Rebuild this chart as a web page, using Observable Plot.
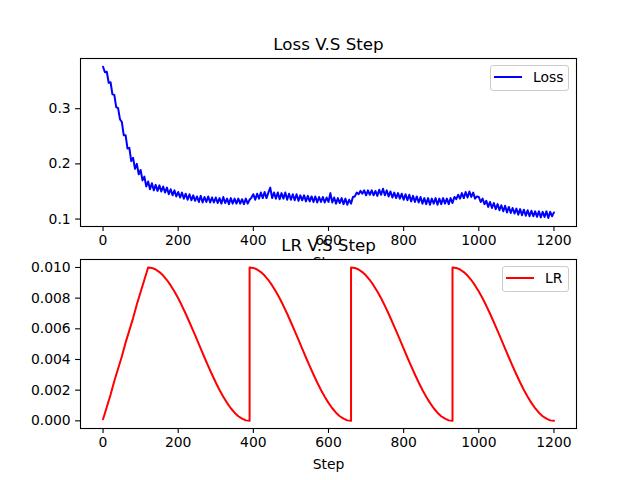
<!DOCTYPE html>
<html>
<head>
<meta charset="utf-8">
<script src="https://cdn.jsdelivr.net/npm/d3@7"></script>
<script src="https://cdn.jsdelivr.net/npm/@observablehq/plot@0.6"></script>
<style>
  html, body { margin: 0; padding: 0; background: white; }
  #fig { position: relative; width: 640px; height: 480px; background: white; overflow: hidden; font-family: "DejaVu Sans"; }
  #fig svg { position: absolute; left: 0; }
</style>
</head>
<body>
<div id="fig"></div>
<script>
// ---- data ----
const titles = ["Loss V.S Step", "LR V.S Step"];
const seriesNames = ["Loss", "LR"];
const xLabel = "Step";
const xTicks = [0, 200, 400, 600, 800, 1000, 1200];
const lossTicks = [0.1, 0.2, 0.3];
const lrTicks = [0, 0.002, 0.004, 0.006, 0.008, 0.010];

const lossStep = d3.range(0, 1201, 5);
const lossValue = [
  0.376, 0.366, 0.367, 0.347, 0.348, 0.326, 0.325, 0.303, 0.301, 0.281,
  0.276, 0.252, 0.252, 0.228, 0.229, 0.205, 0.211, 0.191, 0.200, 0.181,
  0.189, 0.170, 0.177, 0.159, 0.168, 0.154, 0.165, 0.152, 0.162, 0.151,
  0.161, 0.150, 0.159, 0.148, 0.157, 0.145, 0.154, 0.143, 0.152, 0.141,
  0.149, 0.139, 0.148, 0.137, 0.146, 0.135, 0.145, 0.134, 0.143, 0.133,
  0.141, 0.131, 0.142, 0.130, 0.140, 0.131, 0.141, 0.130, 0.139, 0.130,
  0.139, 0.129, 0.138, 0.128, 0.140, 0.129, 0.137, 0.127, 0.138, 0.128,
  0.137, 0.128, 0.137, 0.128, 0.136, 0.127, 0.137, 0.128, 0.135, 0.139,
  0.145, 0.135, 0.146, 0.137, 0.148, 0.138, 0.149, 0.138, 0.148, 0.157,
  0.138, 0.148, 0.137, 0.148, 0.136, 0.147, 0.137, 0.148, 0.135, 0.146,
  0.135, 0.145, 0.134, 0.145, 0.133, 0.143, 0.134, 0.143, 0.132, 0.142,
  0.132, 0.141, 0.131, 0.141, 0.130, 0.140, 0.131, 0.140, 0.130, 0.139,
  0.131, 0.147, 0.130, 0.139, 0.128, 0.138, 0.129, 0.138, 0.127, 0.137,
  0.126, 0.135, 0.128, 0.140, 0.141, 0.148, 0.145, 0.151, 0.146, 0.152,
  0.143, 0.152, 0.144, 0.152, 0.143, 0.151, 0.142, 0.153, 0.144, 0.155,
  0.143, 0.152, 0.141, 0.150, 0.139, 0.148, 0.138, 0.147, 0.137, 0.146,
  0.135, 0.145, 0.134, 0.144, 0.132, 0.142, 0.131, 0.141, 0.130, 0.140,
  0.128, 0.138, 0.127, 0.138, 0.126, 0.137, 0.128, 0.138, 0.126, 0.137,
  0.127, 0.138, 0.128, 0.137, 0.127, 0.138, 0.129, 0.140, 0.136, 0.144,
  0.137, 0.147, 0.138, 0.149, 0.139, 0.150, 0.140, 0.148, 0.137, 0.141,
  0.140, 0.131, 0.137, 0.127, 0.133, 0.122, 0.131, 0.120, 0.129, 0.118,
  0.127, 0.116, 0.125, 0.114, 0.124, 0.112, 0.122, 0.111, 0.120, 0.110,
  0.119, 0.108, 0.118, 0.107, 0.117, 0.106, 0.116, 0.105, 0.115, 0.105,
  0.114, 0.104, 0.114, 0.103, 0.113, 0.104, 0.114, 0.102, 0.113, 0.105,
  0.112
];

const lrStep = [
  ...d3.range(0, 121, 10),
  ...d3.range(130, 391, 10),
  ...d3.range(390, 661, 10),
  ...d3.range(660, 931, 10),
  ...d3.range(930, 1201, 10)
];
const lrValue = [
  // warmup 0..120
  0.0001, 0.0009, 0.0017, 0.0026, 0.0034, 0.0042, 0.0051, 0.0059, 0.0067, 0.0076, 0.0084, 0.0092, 0.0100,
  // decay 130..390
  0.00997, 0.00987, 0.00970, 0.00947, 0.00918, 0.00883, 0.00843, 0.00799, 0.00750, 0.00698, 0.00643, 0.00587, 0.00529,
  0.00471, 0.00413, 0.00357, 0.00302, 0.00250, 0.00201, 0.00157, 0.00117, 0.00082, 0.00053, 0.00030, 0.00014, 0.00003, 0.00000,
  // restart 390..660
  0.01000, 0.00997, 0.00987, 0.00970, 0.00947, 0.00918, 0.00883, 0.00843, 0.00799, 0.00750, 0.00698, 0.00643, 0.00587, 0.00529,
  0.00471, 0.00413, 0.00357, 0.00302, 0.00250, 0.00201, 0.00157, 0.00117, 0.00082, 0.00053, 0.00030, 0.00014, 0.00003, 0.00000,
  // restart 660..930
  0.01000, 0.00997, 0.00987, 0.00970, 0.00947, 0.00918, 0.00883, 0.00843, 0.00799, 0.00750, 0.00698, 0.00643, 0.00587, 0.00529,
  0.00471, 0.00413, 0.00357, 0.00302, 0.00250, 0.00201, 0.00157, 0.00117, 0.00082, 0.00053, 0.00030, 0.00014, 0.00003, 0.00000,
  // restart 930..1200
  0.01000, 0.00997, 0.00987, 0.00970, 0.00947, 0.00918, 0.00883, 0.00843, 0.00799, 0.00750, 0.00698, 0.00643, 0.00587, 0.00529,
  0.00471, 0.00413, 0.00357, 0.00302, 0.00250, 0.00201, 0.00157, 0.00117, 0.00082, 0.00053, 0.00030, 0.00014, 0.00003, 0.00000
];

const lossData = lossStep.map((s, i) => ({step: s, value: lossValue[i]}));
const lrData = lrStep.map((s, i) => ({step: s, value: lrValue[i]}));

const FS = 13.9;
const common = {
  width: 640,
  marginLeft: 80,
  marginRight: 64,
  style: {fontFamily: "DejaVu Sans", fontSize: FS + "px", color: "black", background: "none", overflow: "visible"},
  x: {domain: [-60, 1260]}
};

function axes(yTicks, yFmt) {
  return [
    Plot.axisX({ticks: xTicks, tickSize: 4.9, tickPadding: 4, strokeWidth: 1.1, tickFormat: d => String(d),
      label: xLabel, labelAnchor: "center", labelArrow: "none", labelOffset: 40}),
    Plot.axisY({ticks: yTicks, tickSize: 4.9, tickPadding: 4.9, strokeWidth: 1.1, tickFormat: yFmt, label: null})
  ];
}

const topPlot = Plot.plot({
  ...common,
  height: 280,
  marginTop: 58,
  marginBottom: 54,
  y: {domain: [0.0865, 0.391]},
  marks: [
    Plot.line(lossData, {x: "step", y: "value", stroke: "#0000ff", strokeWidth: 2}),
    Plot.frame({stroke: "black", strokeWidth: 1.1}),
    ...axes(lossTicks, d3.format(".1f")),
    Plot.text([titles[0]], {text: d => d, frameAnchor: "top", dy: -8.3, lineAnchor: "bottom", fontSize: 16.7})
  ]
});

const botPlot = Plot.plot({
  ...common,
  height: 250,
  marginTop: 29,
  marginBottom: 52,
  y: {domain: [-0.0005, 0.01052]},
  marks: [
    Plot.frame({fill: "white", stroke: null}),
    Plot.line(lrData, {x: "step", y: "value", stroke: "#ff0000", strokeWidth: 2}),
    Plot.frame({stroke: "black", strokeWidth: 1.1}),
    ...axes(lrTicks, d3.format(".3f")),
    Plot.text([titles[1]], {text: d => d, frameAnchor: "top", dy: -8.3, lineAnchor: "bottom", fontSize: 16.7})
  ]
});

const fig = document.getElementById("fig");
topPlot.style.top = "0px";
botPlot.style.top = "230px";
fig.appendChild(topPlot);
fig.appendChild(botPlot);

function legend(left, top, width, color, label) {
  const d = document.createElement("div");
  d.style.cssText = `position:absolute;left:${left}px;top:${top}px;width:${width}px;height:26px;box-sizing:border-box;border:1px solid #cccccc;border-radius:3px;background:rgba(255,255,255,0.8);`;
  d.innerHTML = `<svg width="${width}" height="26" style="position:absolute;left:-1px;top:-1px;overflow:visible">
    <line x1="4" x2="32" y1="12" y2="12" stroke="${color}" stroke-width="2"/>
    <text x="43" y="12" dy="0.35em" fill="black" font-family="DejaVu Sans" font-size="${FS}">${label}</text></svg>`;
  fig.appendChild(d);
}
legend(490, 65, 79, "#0000ff", seriesNames[0]);
legend(502, 266, 67, "#ff0000", seriesNames[1]);
</script>
</body>
</html>
